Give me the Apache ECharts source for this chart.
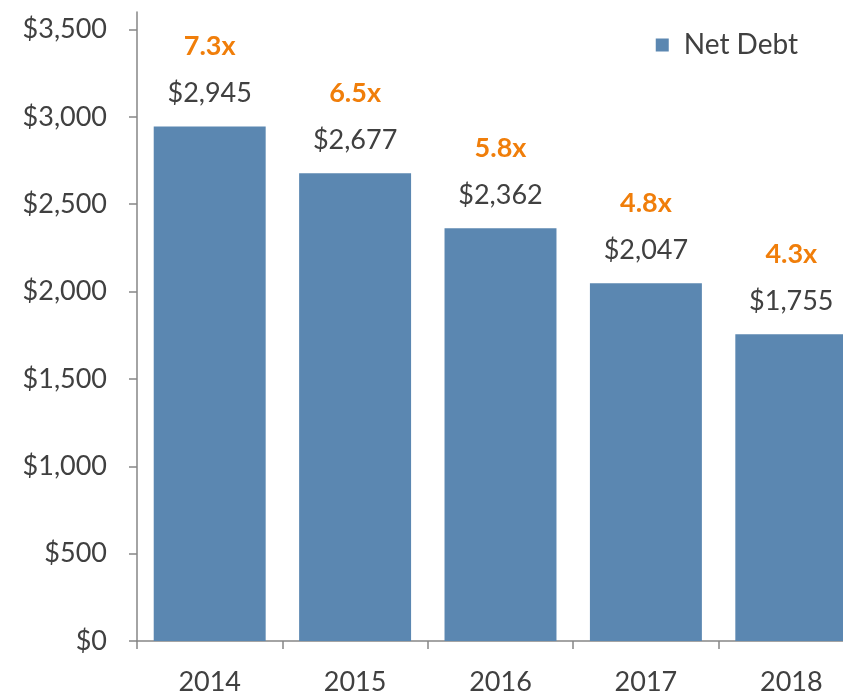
<!DOCTYPE html>
<html>
<head>
<meta charset="utf-8">
<script src="https://cdn.jsdelivr.net/npm/echarts@6/dist/echarts.min.js"></script>
<style>
html,body{margin:0;padding:0;background:#fff;}
#chart{width:843px;height:693px;}
</style>
</head>
<body>
<div id="chart"></div>
<script>
const years = ['2014', '2015', '2016', '2017', '2018'];
const netDebt = [2945, 2677, 2362, 2047, 1755];
const leverage = [7.3, 6.5, 5.8, 4.8, 4.3];
const yTicks = [0, 500, 1000, 1500, 2000, 2500, 3000, 3500];

const FONT = 'Lato';
const TXT = '#404040';
const AXIS = '#868686';

function money(v) {
  return '$' + v.toLocaleString('en-US');
}

const chart = echarts.init(document.getElementById('chart'), null, {renderer: 'canvas'});
chart.setOption({
  animation: false,
  textStyle: {fontFamily: FONT},
  grid: {left: 137, top: 12, width: 727, bottom: 52, containLabel: false, outerBoundsMode: 'none'},
  legend: {
    right: 40, top: 26,
    itemWidth: 13, itemHeight: 13, itemGap: 10,
    icon: 'rect',
    textStyle: {fontFamily: FONT, fontSize: 28, color: TXT, padding: [0, 0, 0, 10]},
    data: ['Net Debt']
  },
  xAxis: {
    type: 'category',
    data: years,
    boundaryGap: true,
    axisLine: {lineStyle: {color: AXIS, width: 1.5}},
    axisTick: {show: true, length: 8, lineStyle: {color: AXIS, width: 1.5}},
    axisLabel: {fontFamily: FONT, fontSize: 27, color: TXT, margin: 28}
  },
  yAxis: {
    type: 'value',
    min: 0, max: 3600, interval: 500,
    axisLine: {show: true, lineStyle: {color: AXIS, width: 1.5}},
    axisTick: {show: true, length: 8, lineStyle: {color: AXIS, width: 1.5}, customValues: yTicks},
    splitLine: {show: false},
    axisLabel: {fontFamily: FONT, fontSize: 27, color: TXT, margin: 30, customValues: yTicks,
      formatter: v => money(v)}
  },
  series: [{
    name: 'Net Debt',
    type: 'bar',
    data: netDebt,
    barCategoryGap: '23%',
    itemStyle: {color: '#5B87B1'},
    label: {
      show: true,
      position: 'top',
      distance: 20,
      formatter: p => '{r|' + leverage[p.dataIndex].toFixed(1) + 'x}\n{s| }\n{v|' + money(p.value) + '}',
      rich: {
        r: {fontFamily: FONT, fontSize: 27, fontWeight: 'bold', color: '#F07E0A', lineHeight: 24, align: 'center'},
        s: {fontSize: 10, lineHeight: 22},
        v: {fontFamily: FONT, fontSize: 27, color: TXT, lineHeight: 26, align: 'center'}
      }
    }
  }]
});
</script>
</body>
</html>
